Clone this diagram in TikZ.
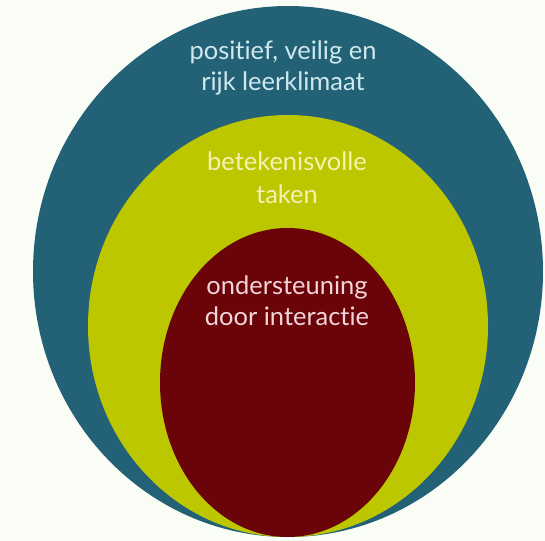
\documentclass[tikz,border=0pt]{standalone}
\usepackage{fontspec}
\setmainfont{Lato}[Ligatures=NoCommon]
\usetikzlibrary{calc}
\definecolor{klimteal}{HTML}{236276}
\definecolor{klimlime}{HTML}{BDC700}
\definecolor{klimred}{HTML}{6A0408}
\definecolor{klimbg}{HTML}{FAFCF6}
\definecolor{txtteal}{HTML}{CFE8EC}
\definecolor{txtlime}{HTML}{F3F2B4}
\definecolor{txtred}{HTML}{F2D4DA}

\begin{document}
\begin{tikzpicture}[
        x=0.02cm, y=-0.02cm,
        lbl/.style={font=\fontsize{14.5}{17.5}\selectfont, align=center, inner sep=0pt},
      ]
      % Canvas
      \fill[klimbg] (0,0) rectangle (545,541);
      \useasboundingbox (0,0) rectangle (545,541);

      % Nested layers, all touching at the bottom
      \fill[klimteal] (288,271.5) ellipse [x radius=255, y radius=265.5];
      \fill[klimlime] (288,326) ellipse [x radius=200, y radius=211];
      \fill[klimred] (287.5,382.5) ellipse [x radius=127.5, y radius=154.5];

      % Layer labels
      \node[lbl, text=txtteal] (klimaat) at (283,68) {positief, veilig en\\rijk leerklimaat};
      \node[lbl, text=txtlime] (taken) at (287,178) {betekenisvolle\\[1.5pt]taken};
      \node[lbl, text=txtred] (interactie) at (287,301) {ondersteuning\\door interactie};
    \end{tikzpicture}
\end{document}
